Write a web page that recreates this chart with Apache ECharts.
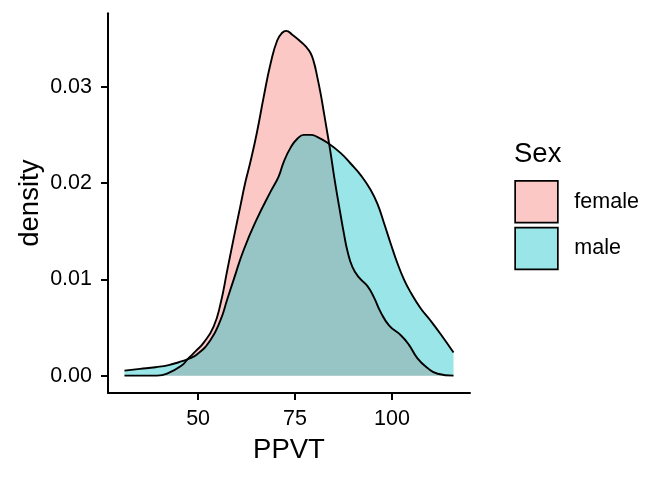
<!DOCTYPE html>
<html>
<head>
<meta charset="utf-8">
<script src="https://cdn.jsdelivr.net/npm/echarts@6/dist/echarts.min.js"></script>
<style>
html, body { margin: 0; padding: 0; background: #ffffff; }
#chart { width: 672px; height: 480px; }
</style>
</head>
<body>
<div id="chart"></div>
<script>
// ---- data (PPVT vs density, by Sex) ----
const sexGroups = ['female', 'male'];

const ppvtFemale = [31.0, 39.4, 42.4, 45.9, 47.2, 48.0, 49.5, 51.4, 54.0, 55.8, 57.5, 59.2, 60.9, 62.2,
  63.5, 65.2, 66.95, 68.7, 70.4, 71.7, 72.7, 74.3, 76.4, 77.7, 79.0, 79.9, 80.7, 81.6, 82.5, 83.3,
  84.0, 84.6, 85.2, 85.9, 86.8, 87.6, 88.5, 89.8, 91.5, 93.7, 95.4, 97.1, 99.3, 102.3, 104.4,
  106.6, 109.2, 111.8, 115.9];
const densityFemale = [0, 0, 0.00028, 0.0011, 0.00166, 0.0020, 0.0026, 0.0034, 0.0051, 0.0075, 0.0109,
  0.0143, 0.0176, 0.0201, 0.0222, 0.0253, 0.0290, 0.0324, 0.0348, 0.0356, 0.0358, 0.0354, 0.0347,
  0.0342, 0.0335, 0.0325, 0.0311, 0.0293, 0.0272, 0.0253, 0.0236, 0.0220, 0.0204, 0.0187, 0.0166,
  0.0148, 0.0130, 0.0113, 0.0102, 0.0093, 0.0081, 0.0066, 0.0052, 0.0042, 0.0032, 0.0018, 0.0008,
  0.0002, 0];

const ppvtMale = [31.0, 35.0, 39.0, 42.4, 45.9, 47.2, 49.7, 53.2, 55.8, 57.5, 59.2, 61.8, 65.2, 68.7,
  70.8, 72.1, 73.9, 75.6, 77.3, 79.0, 80.7, 83.3, 86.8, 89.4, 92.0, 94.5, 96.3, 98.0, 99.7, 101.4,
  103.1, 104.9, 107.4, 110.0, 112.6, 115.9];
const densityMale = [0.00052, 0.0007, 0.00088, 0.0011, 0.0015, 0.0017, 0.0022, 0.0037, 0.0058, 0.0079,
  0.0100, 0.0131, 0.0163, 0.0191, 0.0207, 0.0222, 0.0237, 0.0246, 0.0250, 0.0250, 0.0248, 0.0242,
  0.0231, 0.0220, 0.0208, 0.0193, 0.0178, 0.0158, 0.0137, 0.0117, 0.0100, 0.0086, 0.0070, 0.0057,
  0.0043, 0.0024];

const xTicks = [50, 75, 100];
const yTicks = [0, 0.01, 0.02, 0.03];

// ---- styling ----
const FONT = '"Liberation Sans", Arial, Helvetica, sans-serif';
const fills = ['rgba(248,118,109,0.4)', 'rgba(0,191,196,0.4)'];

const seriesData = [
  ppvtFemale.map((x, i) => [x, densityFemale[i]]),
  ppvtMale.map((x, i) => [x, densityMale[i]])
];

const chart = echarts.init(document.getElementById('chart'), null, { renderer: 'canvas' });

chart.setOption({
  animation: false,
  backgroundColor: '#ffffff',
  textStyle: { fontFamily: FONT },
  grid: { left: 108, right: 202, top: 13.3, bottom: 87 },
  xAxis: {
    type: 'value',
    min: 26.75,
    max: 120.15,
    name: 'PPVT',
    nameLocation: 'middle',
    nameGap: 43.7,
    nameMoveOverlap: false,
    nameTextStyle: { fontSize: 27.5, color: '#000', fontFamily: FONT },
    axisLine: { show: true, onZero: false, lineStyle: { color: '#000', width: 2 } },
    axisTick: { show: true, length: 7, customValues: xTicks, lineStyle: { color: '#000', width: 2 } },
    axisLabel: { show: true, customValues: xTicks, margin: 15.5, fontSize: 21.5, color: '#000', fontFamily: FONT },
    splitLine: { show: false }
  },
  yAxis: {
    type: 'value',
    min: -0.0018,
    max: 0.03762,
    name: 'density',
    nameLocation: 'middle',
    nameGap: 64,
    nameMoveOverlap: false,
    nameTextStyle: { fontSize: 27.5, color: '#000', fontFamily: FONT },
    axisLine: { show: true, onZero: false, lineStyle: { color: '#000', width: 2 } },
    axisTick: { show: true, length: 7, customValues: yTicks, lineStyle: { color: '#000', width: 2 } },
    axisLabel: {
      show: true, customValues: yTicks, margin: 16, fontSize: 21.5, color: '#000', fontFamily: FONT,
      padding: [6, 0, 0, 0],
      formatter: v => v.toFixed(2)
    },
    splitLine: { show: false }
  },
  legend: {
    orient: 'vertical',
    left: 514.3,
    top: 180,
    padding: 0,
    itemWidth: 42.7,
    itemHeight: 41.7,
    itemGap: 3.4,
    icon: 'rect',
    selectedMode: false,
    textStyle: { fontSize: 21.5, color: '#000', fontFamily: FONT, padding: [2, 0, 0, 11.5] },
    data: sexGroups.map((g, i) => ({
      name: g,
      icon: 'rect',
      itemStyle: { color: fills[i], borderColor: '#000', borderWidth: 1.7 }
    }))
  },
  graphic: [{
    type: 'text',
    left: 514,
    top: 140,
    style: { text: 'Sex', fontSize: 27.5, fill: '#000', fontFamily: FONT }
  }],
  series: sexGroups.map((g, i) => ({
    name: g,
    type: 'line',
    data: seriesData[i],
    smooth: 0.5,
    symbol: 'none',
    silent: true,
    lineStyle: { color: '#000', width: 1.9 },
    itemStyle: { color: fills[i] },
    areaStyle: { color: fills[i], opacity: 1, origin: 'auto' },
    emphasis: { disabled: true }
  }))
});
</script>
</body>
</html>
